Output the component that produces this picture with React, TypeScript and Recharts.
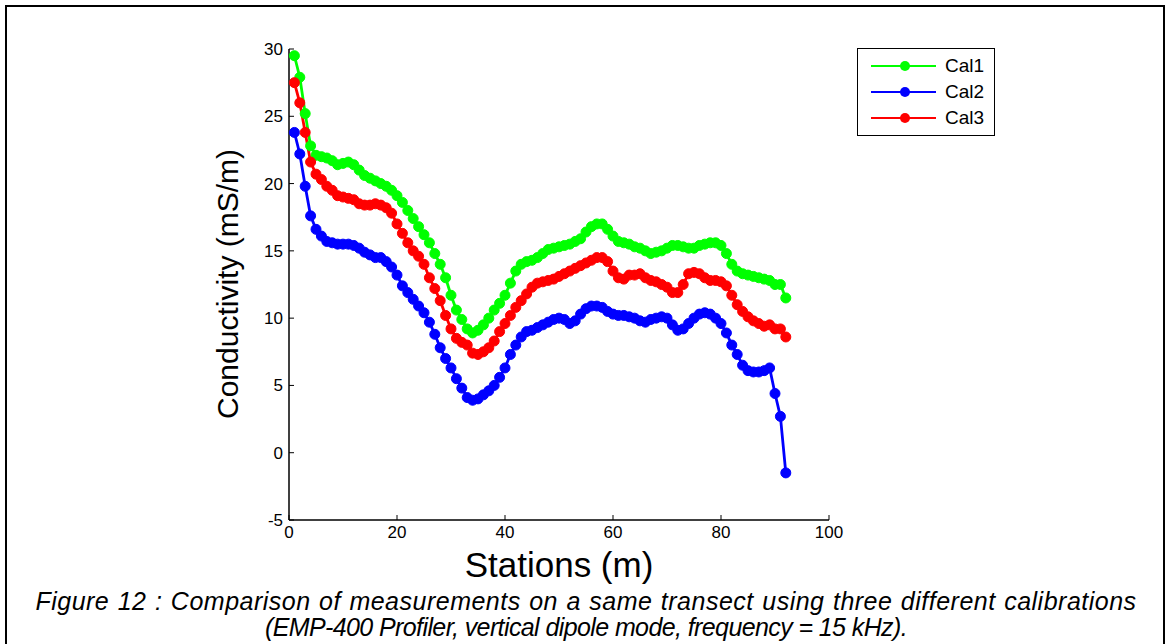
import React from "react"
import { LineChart, Line, XAxis, YAxis, Legend } from "recharts"

// conductivity readings per station (mS/m), one value per metre, stations 1..92
const cal1 = [
  29.5, 27.9, 25.2, 22.8, 22.1, 22.0, 21.9, 21.7, 21.4, 21.5,
  21.6, 21.4, 21.0, 20.6, 20.4, 20.2, 20.0, 19.8, 19.5, 19.1,
  18.6, 18.0, 17.4, 16.8, 16.2, 15.6, 14.8, 14.0, 13.0, 11.7,
  10.6, 9.9, 9.2, 8.9, 9.1, 9.5, 10.0, 10.6, 11.1, 11.7,
  12.6, 13.5, 14.0, 14.2, 14.3, 14.5, 14.8, 15.1, 15.2, 15.3,
  15.4, 15.5, 15.7, 15.9, 16.4, 16.8, 17.0, 17.0, 16.6, 16.1,
  15.7, 15.6, 15.5, 15.3, 15.2, 15.0, 14.8, 14.9, 15.0, 15.2,
  15.4, 15.4, 15.3, 15.2, 15.2, 15.4, 15.5, 15.6, 15.6, 15.4,
  14.8, 14.0, 13.5, 13.3, 13.2, 13.1, 13.0, 12.9, 12.8, 12.5,
  12.5, 11.5,
]

const cal2 = [
  23.8, 22.2, 19.8, 17.6, 16.6, 16.1, 15.7, 15.6, 15.5, 15.5,
  15.5, 15.4, 15.2, 14.9, 14.7, 14.5, 14.5, 14.2, 13.8, 13.2,
  12.4, 11.9, 11.4, 10.9, 10.4, 9.7, 8.8, 7.8, 7.0, 6.3,
  5.5, 4.8, 4.1, 3.9, 4.0, 4.3, 4.6, 5.0, 5.6, 6.3,
  7.3, 8.0, 8.6, 9.0, 9.1, 9.3, 9.5, 9.7, 9.9, 10.0,
  9.9, 9.6, 9.8, 10.3, 10.7, 10.9, 10.9, 10.8, 10.5, 10.3,
  10.2, 10.2, 10.1, 10.0, 9.8, 9.7, 9.9, 10.0, 10.1, 10.0,
  9.5, 9.1, 9.2, 9.6, 10.0, 10.3, 10.4, 10.3, 10.0, 9.6,
  8.9, 8.0, 7.3, 6.5, 6.1, 6.0, 6.0, 6.1, 6.3, 4.4,
  2.7, -1.5,
]

const cal3 = [
  27.5, 26.0, 23.8, 21.6, 20.7, 20.3, 19.8, 19.5, 19.1, 19.0,
  18.9, 18.8, 18.5, 18.4, 18.4, 18.5, 18.4, 18.2, 17.8, 17.0,
  16.3, 15.6, 15.0, 14.6, 14.0, 13.0, 12.2, 11.3, 10.2, 9.2,
  8.5, 8.2, 8.0, 7.4, 7.3, 7.5, 7.8, 8.3, 9.0, 9.6,
  10.2, 10.8, 11.3, 11.8, 12.3, 12.6, 12.7, 12.8, 12.9, 13.1,
  13.3, 13.5, 13.7, 13.9, 14.1, 14.3, 14.5, 14.5, 14.2, 13.5,
  13.0, 12.9, 13.2, 13.2, 13.3, 13.0, 12.8, 12.7, 12.5, 12.3,
  11.9, 11.9, 12.5, 13.3, 13.4, 13.3, 13.0, 12.8, 12.8, 12.7,
  12.4, 11.7, 11.0, 10.5, 10.1, 9.8, 9.6, 9.4, 9.5, 9.2,
  9.2, 8.6,
]

const xTicks = [0, 20, 40, 60, 80, 100]
const yTicks = [-5, 0, 5, 10, 15, 20, 25, 30]

const series = [
  { key: "Cal1", color: "#00ff00" },
  { key: "Cal2", color: "#0000ff" },
  { key: "Cal3", color: "#ff0000" },
]

const data = cal1.map((_, i) => ({
  station: i + 1,
  Cal1: cal1[i],
  Cal2: cal2[i],
  Cal3: cal3[i],
}))

const FONT = "'Liberation Sans', Arial, Helvetica, sans-serif"
const NARROW = "'Liberation Sans Narrow', 'Arial Narrow', 'Liberation Sans', sans-serif"
const TICK_LEN = 5
const LABEL_GAP = 4

// MATLAB style: tick marks point into the plot box
function BottomTick(props: any) {
  const { x, y, payload } = props
  const axisY = y - LABEL_GAP
  return (
    <g>
      <line x1={x} y1={axisY} x2={x} y2={axisY - TICK_LEN} stroke="#000" />
      <text x={x} y={axisY + 18} textAnchor="middle" fontSize={17} fontFamily={NARROW} fill="#000">
        {payload.value}
      </text>
    </g>
  )
}

function LeftTick(props: any) {
  const { x, y, payload } = props
  const axisX = x + LABEL_GAP
  return (
    <g>
      <line x1={axisX} y1={y} x2={axisX + TICK_LEN} y2={y} stroke="#000" />
      <text x={axisX - 6} y={y + 6} textAnchor="end" fontSize={17} fontFamily={FONT} fill="#000">
        {payload.value}
      </text>
    </g>
  )
}

function TopTick(props: any) {
  const { x, y } = props
  return <line x1={x} y1={y} x2={x} y2={y + TICK_LEN} stroke="#000" />
}

function RightTick(props: any) {
  const { x, y } = props
  return <line x1={x} y1={y} x2={x - TICK_LEN} y2={y} stroke="#000" />
}

function LegendBox(props: any) {
  const { payload } = props
  return (
    <div
      style={{
        border: "1px solid #000",
        background: "#fff",
        width: 138,
        height: 88,
        boxSizing: "border-box",
        paddingTop: 4,
        fontFamily: FONT,
      }}
    >
      {(payload || []).map((p: any) => (
        <div key={p.value} style={{ display: "flex", alignItems: "center", height: 26 }}>
          <svg width={87} height={12} style={{ flex: "none" }}>
            <line x1={13} y1={6} x2={78} y2={6} stroke={p.color} strokeWidth={2} />
            <circle cx={47} cy={6} r={5} fill={p.color} />
          </svg>
          <span style={{ fontSize: 19, color: "#000" }}>{p.value}</span>
        </div>
      ))}
    </div>
  )
}

export default function App() {
  return (
    <div
      style={{
        position: "absolute",
        left: 0,
        top: 0,
        width: 1168,
        height: 644,
        overflow: "hidden",
        background: "#fff",
        fontFamily: FONT,
      }}
    >
      {/* page frame */}
      <div
        style={{
          position: "absolute",
          left: 5,
          top: 5,
          width: 1156,
          height: 700,
          border: "2px solid #000",
        }}
      />

      <div style={{ position: "absolute", left: 0, top: 0 }}>
        <LineChart
          width={1168}
          height={644}
          data={data}
          margin={{ top: 49, right: 339, bottom: 94, left: 229 }}
        >
          <XAxis
            xAxisId="b"
            dataKey="station"
            type="number"
            domain={[0, 100]}
            ticks={xTicks}
            height={30}
            tickSize={0}
            tickMargin={LABEL_GAP}
            tickLine={false}
            tick={<BottomTick />}
            axisLine={{ stroke: "#000", strokeWidth: 1.5 }}
            interval={0}
          />
          <XAxis
            xAxisId="t"
            orientation="top"
            dataKey="station"
            type="number"
            domain={[0, 100]}
            ticks={xTicks}
            height={0}
            tickSize={0}
            tickMargin={0}
            tickLine={false}
            tick={<TopTick />}
            axisLine={{ stroke: "#000", strokeWidth: 1 }}
            interval={0}
          />
          <YAxis
            yAxisId="l"
            type="number"
            domain={[-5, 30]}
            ticks={yTicks}
            width={60}
            tickSize={0}
            tickMargin={LABEL_GAP}
            tickLine={false}
            tick={<LeftTick />}
            axisLine={{ stroke: "#000", strokeWidth: 1.5 }}
            interval={0}
          />
          <YAxis
            yAxisId="r"
            orientation="right"
            type="number"
            domain={[-5, 30]}
            ticks={yTicks}
            width={0}
            tickSize={0}
            tickMargin={0}
            tickLine={false}
            tick={<RightTick />}
            axisLine={{ stroke: "#000", strokeWidth: 1 }}
            interval={0}
          />
          <Legend
            layout="horizontal"
            align="center"
            verticalAlign="middle"
            content={<LegendBox />}
            wrapperStyle={{ position: "absolute", left: 857, top: 48, width: 138, height: 88 }}
          />
          {series.map((s) => (
            <Line
              key={s.key}
              xAxisId="b"
              yAxisId="l"
              dataKey={s.key}
              name={s.key}
              stroke={s.color}
              strokeWidth={2.8}
              dot={{ r: 5, fill: s.color, stroke: s.color, strokeWidth: 1 }}
              activeDot={false}
              isAnimationActive={false}
            />
          ))}
        </LineChart>
      </div>

      {/* axis titles */}
      <div
        style={{
          position: "absolute",
          left: 228,
          top: 284,
          transform: "translate(-50%, -50%) rotate(-90deg)",
          whiteSpace: "nowrap",
          fontSize: 30,
          color: "#000",
        }}
      >
        Conductivity (mS/m)
      </div>
      <div
        style={{
          position: "absolute",
          left: 559,
          top: 565,
          transform: "translate(-50%, -50%)",
          whiteSpace: "nowrap",
          fontSize: 35,
          color: "#000",
        }}
      >
        Stations (m)
      </div>

      {/* caption */}
      <div
        style={{
          position: "absolute",
          left: 0,
          top: 588,
          width: 1172,
          textAlign: "center",
          fontStyle: "italic",
          fontSize: 25,
          lineHeight: "26px",
          color: "#000",
          whiteSpace: "nowrap",
        }}
      >
        <div style={{ letterSpacing: 0.5, wordSpacing: 1 }}>
          Figure 12 : Comparison of measurements on a same transect using three different calibrations
        </div>
        <div style={{ letterSpacing: -0.6 }}>
          (EMP-400 Profiler, vertical dipole mode, frequency = 15 kHz).
        </div>
      </div>
    </div>
  )
}
